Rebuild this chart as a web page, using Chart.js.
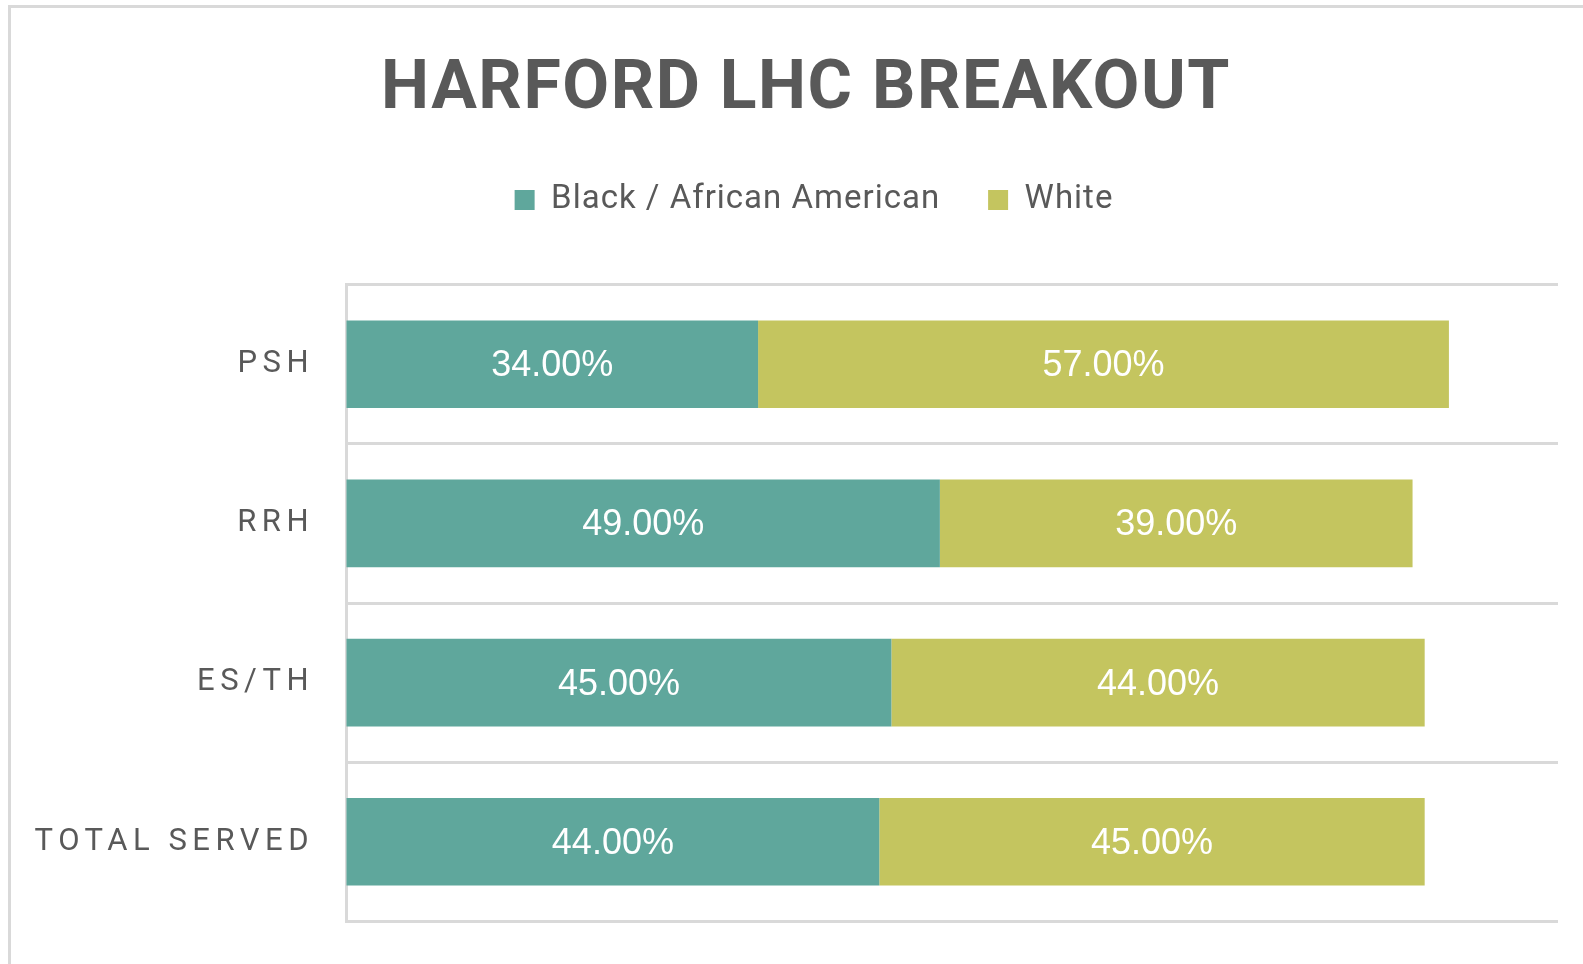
<!DOCTYPE html>
<html>
<head>
<meta charset="utf-8">
<title>Harford LHC Breakout</title>
<script src="https://cdn.jsdelivr.net/npm/chart.js@4.4.1/dist/chart.umd.min.js"></script>
<style>
  html, body { margin: 0; padding: 0; background: #fff; overflow: hidden; }
  /* the grey frame of the original chart box */
  .frame {
    position: absolute; left: 8px; top: 5px; width: 1700px; height: 1100px;
    border-left: 3px solid #d9d9d9; border-top: 3px solid #d9d9d9;
  }
  /* a little taller than the window: the bottom of the plot sits near the lower edge */
  .wrap { position: absolute; left: 0; top: 0; width: 1583px; height: 972px; }
</style>
</head>
<body>
<div class="frame"></div>
<div class="wrap"><canvas id="breakoutChart"></canvas></div>

<script>
// DATA
const categories = ['PSH', 'RRH', 'ES/TH', 'TOTAL SERVED'];
const blackAfricanAmerican = [34, 49, 45, 44];
const white = [57, 39, 44, 45];
const seriesNames = ['Black / African American', 'White'];

const textGrey = '#595959';
const gridGrey = '#d9d9d9';

// small helper: canvas letter spacing for a drawing method (Chart.js has no option for it)
function addSpacing(obj, method, spacing) {
    if (!obj || obj['_sp_' + method]) return;
    const orig = obj[method];
    obj[method] = function (...args) {
        const c = this.ctx;
        const prev = c.letterSpacing;
        c.letterSpacing = spacing;
        const r = orig.apply(this, args);
        c.letterSpacing = prev;
        return r;
    };
    obj['_sp_' + method] = true;
}

const spacingPlugin = {
    id: 'spacing',
    beforeLayout(chart) {
        addSpacing(chart.titleBlock, 'draw', '1.5px');
        addSpacing(chart.legend, 'fit', '1px');
        addSpacing(chart.legend, 'draw', '1px');
        addSpacing(chart.scales.y, 'drawLabels', '5.5px');
    },
    afterLayout(chart) {
        // the original title / legend sit a bit right of the canvas centre
        chart.titleBlock.left += 27;
        chart.titleBlock.right += 27;
        chart.legend.left += 35;
        chart.legend.right += 35;
    }
};

// white percentage labels centred in every segment
const segmentLabels = {
    id: 'segmentLabels',
    afterDatasetsDraw(chart) {
        const ctx = chart.ctx;
        ctx.save();
        ctx.font = '36px "Liberation Sans", Arial, sans-serif';
        ctx.fillStyle = '#ffffff';
        ctx.textAlign = 'center';
        ctx.textBaseline = 'middle';
        chart.data.datasets.forEach((ds, i) => {
            chart.getDatasetMeta(i).data.forEach((bar, j) => {
                const p = bar.getCenterPoint();
                ctx.fillText(ds.data[j].toFixed(2) + '%', p.x, p.y + 2);
            });
        });
        ctx.restore();
    }
};

const ctx = document.getElementById('breakoutChart').getContext('2d');

const breakoutChart = new Chart(ctx, {
    type: 'bar',
    data: {
        labels: categories,
        datasets: [{
            label: seriesNames[0],
            data: blackAfricanAmerican,
            backgroundColor: '#5fa79c',
            borderWidth: 0
        }, {
            label: seriesNames[1],
            data: white,
            backgroundColor: '#c4c55f',
            borderWidth: 0
        }]
    },
    options: {
        indexAxis: 'y',
        responsive: true,
        maintainAspectRatio: false,
        animation: false,
        categoryPercentage: 1,
        barPercentage: 0.55,
        layout: {
            autoPadding: false,
            padding: { left: 0, right: 25, top: 0, bottom: 43 }
        },
        plugins: {
            title: {
                display: true,
                text: 'HARFORD LHC BREAKOUT',
                color: textGrey,
                font: { family: 'Roboto', size: 68, weight: 'bold' },
                padding: { top: 50, bottom: 4 }
            },
            legend: {
                display: true,
                position: 'top',
                labels: {
                    color: textGrey,
                    boxWidth: 20,
                    boxHeight: 20,
                    padding: 48,
                    font: { family: 'Roboto', size: 33 }
                }
            },
            tooltip: { enabled: false }
        },
        scales: {
            x: {
                stacked: true,
                position: 'top',
                min: 0,
                max: 100,
                ticks: { display: false },
                border: { display: false },
                grid: {
                    drawOnChartArea: false,
                    drawTicks: true,
                    tickLength: 58,
                    tickColor: 'transparent'
                }
            },
            y: {
                stacked: true,
                offset: true,
                afterFit: function (scale) {
                    scale.width = 346;
                },
                ticks: {
                    color: textGrey,
                    padding: 32,
                    font: { family: 'Roboto', size: 31 }
                },
                border: { display: true, color: gridGrey, width: 3 },
                grid: {
                    offset: true,
                    drawTicks: false,
                    color: gridGrey,
                    lineWidth: 3
                }
            }
        }
    },
    plugins: [spacingPlugin, segmentLabels]
});
</script>
</body>
</html>
